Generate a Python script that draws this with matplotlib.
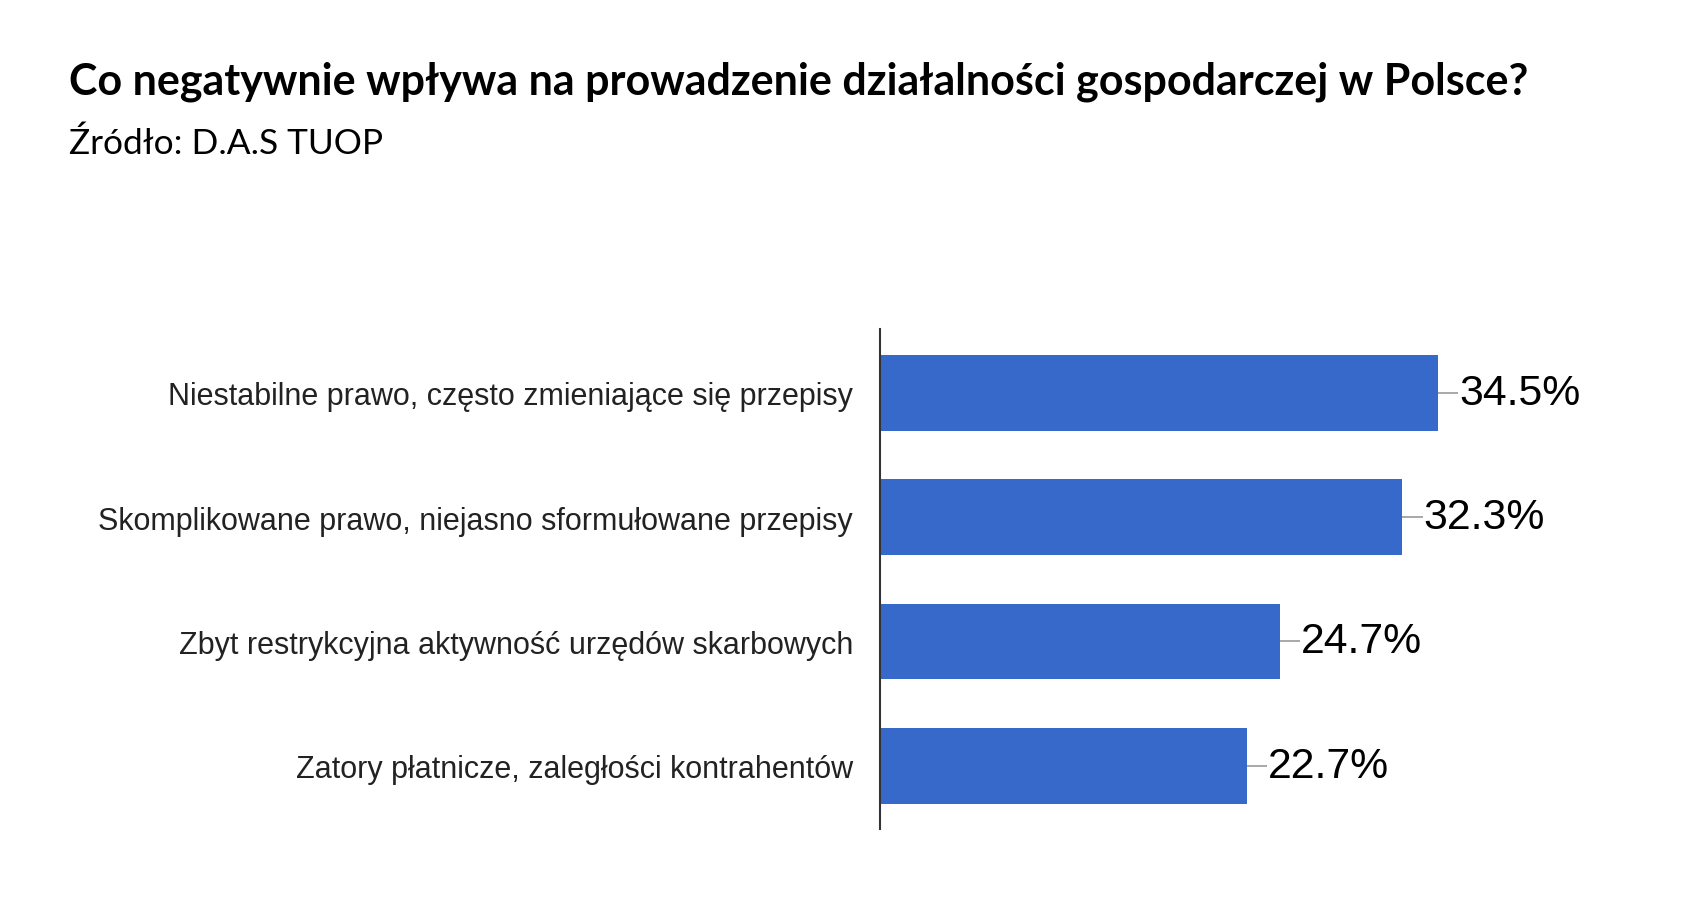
import matplotlib
matplotlib.use("Agg")
import matplotlib.pyplot as plt

# data
categories = [
    "Niestabilne prawo, często zmieniające się przepisy",
    "Skomplikowane prawo, niejasno sformułowane przepisy",
    "Zbyt restrykcyjna aktywność urzędów skarbowych",
    "Zatory płatnicze, zaległości kontrahentów",
]
values = [34.5, 32.3, 24.7, 22.7]
value_labels = ["34.5%", "32.3%", "24.7%", "22.7%"]

title = "Co negatywnie wpływa na prowadzenie działalności gospodarczej w Polsce?"
subtitle = "Źródło: D.A.S TUOP"

W, H = 1690, 912
fig = plt.figure(figsize=(W / 100, H / 100), dpi=100)
fig.patch.set_facecolor("white")

fig.text(69 / W, 1 - 95 / H, title, family=["Lato", "DejaVu Sans"], fontweight="bold",
         fontsize=31, color="#000000", ha="left", va="baseline")
fig.text(69 / W, 1 - 154 / H, subtitle, family=["Lato", "DejaVu Sans"],
         fontsize=25.4, color="#000000", ha="left", va="baseline")

ax = fig.add_axes([880 / W, 82 / H, 647 / W, 500 / H])
ypos = list(range(len(values)))
ax.barh(ypos, values, height=0.61, color="#3669c9", edgecolor="none")
ax.set_xlim(0, 40)
ax.set_ylim(3.51, -0.515)

for y, v, lab in zip(ypos, values, value_labels):
    ax.plot([v, v + 1.25], [y, y], color="#999999", linewidth=1.2, solid_capstyle="butt")
    ax.text(v + 1.3, y, lab, family=["Liberation Sans", "DejaVu Sans"], fontsize=30.8,
            color="#000000", ha="left", va="center")

ax.set_yticks(ypos)
ax.set_yticklabels(categories, family=["Liberation Sans", "DejaVu Sans"], fontsize=22,
                   color="#222222")
ax.tick_params(axis="y", length=0, pad=19.5)
ax.set_xticks([])
for s in ["top", "right", "bottom"]:
    ax.spines[s].set_visible(False)
ax.spines["left"].set_color("#333333")
ax.spines["left"].set_linewidth(1.5)
ax.set_facecolor("white")

fig.savefig("out.png", dpi=100, facecolor="white")
